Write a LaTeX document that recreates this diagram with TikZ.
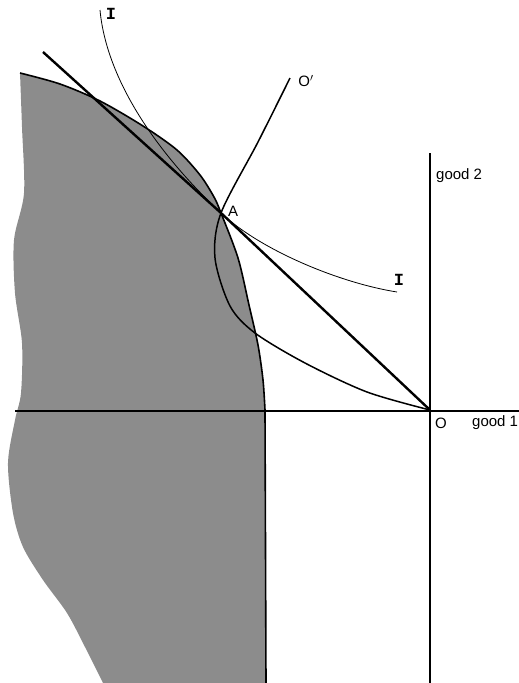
\documentclass[tikz,border=0pt]{standalone}
\usepackage{fontspec}
\setmainfont{Liberation Sans}
\newfontfamily\slabfont{Liberation Mono}
\usetikzlibrary{positioning}

\begin{document}
\begin{tikzpicture}[
    x=1pt, y=-1pt,
    ppf fill/.style={fill=black!45, draw=none},
    ppf edge/.style={draw, line width=1.6pt},
    axis line/.style={draw, line width=1.2pt},
    budget line/.style={draw, line width=2.4pt},
    offer curve/.style={draw, line width=1.5pt},
    indiff curve/.style={draw, line width=0.8pt},
    tag text/.style={font=\fontsize{15}{18}\selectfont, inner sep=1pt},
    slab tag/.style={font=\fontsize{17}{18}\selectfont\slabfont\bfseries, inner sep=1pt}
]
    \useasboundingbox (0,0) rectangle (519,683);

    % Key points
    \coordinate (O) at (430,410);
    \coordinate (A) at (221,213);
    \coordinate (bl) at (43,52);
    \coordinate (ytop) at (430,153);
    \coordinate (ybot) at (430,683);
    \coordinate (xleft) at (15,411);
    \coordinate (xright) at (519,411);
    \coordinate (ppfbot) at (266,683);
    \coordinate (itop) at (100,10);
    \coordinate (iend) at (397,292);
    \coordinate (otop) at (290,78);

    % Shaded production set
    \path[ppf fill] plot[smooth] coordinates {(20,73) (60,84) (100,101) (143,126) (177,150) (200,175) (214,197) (A) (238,258) (249,305) (258,345) (263,380) (265,410)}
        -- (ppfbot) -- plot[smooth] coordinates {(103,683) (85,647) (67,613) (43,580) (23,547) (13,513) (8,463) (15,420) (21,393) (22,343) (15,293) (14,240) (24,193) (22,127) (20,73)} -- cycle;

    % Axes
    \draw[axis line] (xleft) -- (xright);
    \draw[axis line] (ytop) -- (ybot);

    % Frontier
    \draw[ppf edge] plot[smooth] coordinates {(20,73) (60,84) (100,101) (143,126) (177,150) (200,175) (214,197) (A) (238,258) (249,305) (258,345) (263,380) (265,410)} -- (ppfbot);

    % Price line through A
    \draw[budget line] (bl) -- (A) -- (O);

    % Offer curve O-O'
    \draw[offer curve] plot[smooth] coordinates {(otop) (258,142) (A) (215,258) (230,306) (255,333) (305,363) (367,392) (O)};

    % Indifference curve
    \draw[indiff curve] (itop) .. controls (106,75) and (151,147.3) .. (A)
        .. controls (261,250.5) and (340,283) .. (iend);

    % Labels
    \node[slab tag] (Itop) at (111,14) {I};
    \node[slab tag] (Iend) at (399,280) {I};
    \node[tag text] (Atag) at (233,211) {A};
    \node[tag text] (Oprime) at (306,81) {O$'$};
    \node[tag text, anchor=west] (Otag) at (434,423) {O};
    \node[tag text, anchor=west, inner sep=0pt] (good1) at (472,423) {good 1};
    \node[tag text, anchor=west] (good2) at (435,176) {good 2};

\end{tikzpicture}
\end{document}
